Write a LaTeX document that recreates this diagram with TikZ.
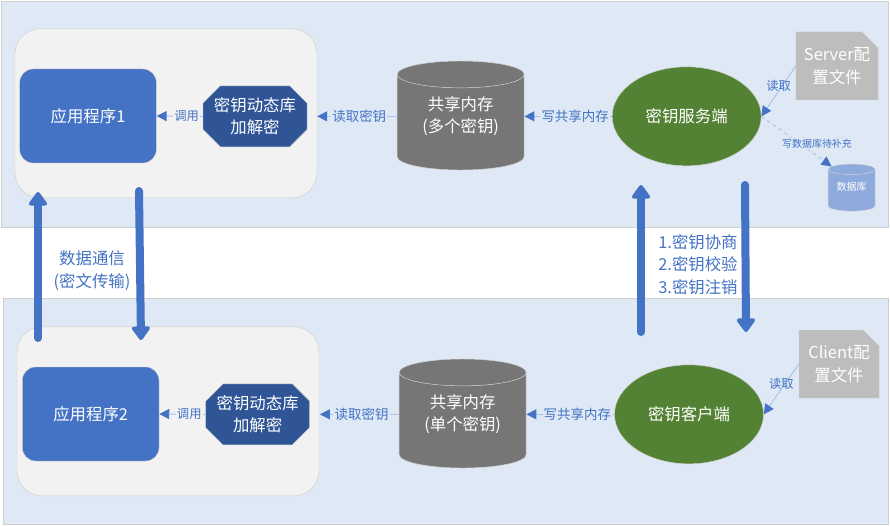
\documentclass[tikz,border=0pt]{standalone}
\usepackage{fontspec}
\usepackage{xcolor}
\setmainfont{Noto Sans CJK SC}
\usetikzlibrary{shapes.geometric, shapes.misc, arrows.meta, positioning}
\definecolor{panelblue}{HTML}{DEE9F5}
\definecolor{hostgray}{HTML}{F2F2F2}
\definecolor{edgegray}{HTML}{CFCFCF}
\definecolor{appblue}{HTML}{4472C4}
\definecolor{libblue}{HTML}{2F5597}
\definecolor{shmgray}{HTML}{767676}
\definecolor{keygreen}{HTML}{548235}
\definecolor{filegray}{HTML}{BDBDBD}
\definecolor{dbblue}{HTML}{8FAADC}
\definecolor{linkblue}{HTML}{A9C4EA}
\begin{document}
\begin{tikzpicture}[
  font=\fontsize{14pt}{19pt}\selectfont,
  panel/.style={
    draw=edgegray, fill=panelblue,
    minimum height=6.78cm, inner sep=0pt
  },
  host/.style={
    draw=edgegray, rounded corners=0.75cm, fill=hostgray,
    minimum width=9.06cm, minimum height=5.07cm
  },
  app/.style={
    draw=edgegray, rounded corners=0.4cm, fill=appblue, text=white,
    minimum width=4.1cm, minimum height=2.82cm
  },
  lib/.style={
    draw=edgegray, fill=libblue, text=white, align=center,
    chamfered rectangle, chamfered rectangle xsep=0.26cm, chamfered rectangle ysep=0.26cm,
    minimum width=3.12cm, minimum height=1.83cm, inner sep=0pt
  },
  shm/.style={
    draw=edgegray, cylinder, shape border rotate=90, shape aspect=0.35,
    cylinder uses custom fill, cylinder body fill=shmgray, cylinder end fill=shmgray,
    text=white, align=center, minimum width=3.81cm, minimum height=3.27cm, inner sep=0pt,
    text depth=0.45cm
  },
  keysvc/.style={
    draw=edgegray, ellipse, fill=keygreen, text=white,
    minimum width=4.47cm, minimum height=2.97cm, inner sep=0pt
  },
  conf/.style={
    draw=edgegray, fill=filegray, text=white, align=center,
    chamfered rectangle, chamfered rectangle corners=north east,
    chamfered rectangle xsep=0.24cm, chamfered rectangle ysep=0.24cm,
    minimum width=2.4cm, minimum height=2.04cm, inner sep=0pt
  },
  arr/.style={-{Triangle[color=appblue, length=0.3cm, width=0.3cm]}, draw=linkblue, thick},
  bigarr/.style={-{Triangle[round, length=0.45cm, width=0.62cm]}, draw=appblue,
    line width=0.24cm, line cap=round},
  lbl/.style={font=\fontsize{11.5pt}{13pt}\selectfont, text=appblue, inner sep=1pt},
  lblsm/.style={lbl, font=\fontsize{10.5pt}{13pt}\selectfont},
  note/.style={text=appblue, align=center},
]
\useasboundingbox (0,0) rectangle (26.7,15.75);

%% Panels
\node[panel, minimum width=26.61cm] (top) at (13.34, 12.33) {};
\node[panel, minimum width=26.55cm] (bottom) at (13.37, 3.42) {};

%% Hosts
\node[host] (host1) at (4.98, 12.35) {};
\node[host] (host2) at (5.04, 3.41) {};

%% Top row
\node[app] (app1)   at (2.64, 12.27) {应用程序1};
\node[lib] (lib1)   at (7.65, 12.26) {密钥动态库\\加解密};
\node[shm] (shm1)   at (13.82, 12.08) {共享内存\\(多个密钥)};
\node[keysvc] (server) at (20.6, 12.26) {密钥服务端};
\node[conf] (conf1) at (25.11, 13.77) {Server配\\置文件};
\node[shm, minimum width=1.41cm, minimum height=1.41cm, text depth=0.25cm,
  cylinder body fill=dbblue, cylinder end fill=dbblue,
  font=\fontsize{8.5pt}{10pt}\selectfont] (db) at (25.55, 10.04) {数据库};

%% Bottom row
\node[app] (app2)   at (2.72, 3.33) {应用程序2};
\node[lib] (lib2)   at (7.73, 3.32) {密钥动态库\\加解密};
\node[shm] (shm2)   at (13.88, 3.14) {共享内存\\(单个密钥)};
\node[keysvc] (client) at (20.67, 3.32) {密钥客户端};
\node[conf] (conf2) at (25.17, 4.83) {Client配\\置文件};

%% Arrows: top row
\draw[arr] (lib1.west) -- node[lblsm, fill=hostgray, pos=0.35] {调用} (app1.east);
\draw[arr, shorten >=0.3cm] (shm1.west |- lib1.west) -- node[lbl, fill=panelblue, pos=0.42] {读取密钥} (lib1.east);
\draw[arr] (server.west) -- node[lbl, fill=panelblue, pos=0.42] {写共享内存} (shm1.east |- server.west);
\draw[arr] (conf1.west) -- node[lblsm, above left=-0.05cm and -0.42cm] {读取} (server.east);
\draw[arr, dashed] (server.east) -- node[lbl, fill=panelblue, font=\fontsize{8.5pt}{10pt}\selectfont, pos=0.65, xshift=0.3cm, yshift=0.15cm] {写数据库待补充} (db.130);

%% Arrows: bottom row
\draw[arr] (lib2.west) -- node[lblsm, fill=hostgray, pos=0.35] {调用} (app2.east);
\draw[arr, shorten >=0.3cm] (shm2.west |- lib2.west) -- node[lbl, fill=panelblue, pos=0.42] {读取密钥} (lib2.east);
\draw[arr] (client.west) -- node[lbl, fill=panelblue, pos=0.42] {写共享内存} (shm2.east |- client.west);
\draw[arr] (conf2.west) -- node[lblsm, above left=-0.05cm and -0.42cm] {读取} (client.east);

%% Arrows: between panels
\coordinate (app2up)   at (1.14, 5.61);
\coordinate (app1up)   at (1.14, 9.99);
\coordinate (app1down) at (4.17, 10.02);
\coordinate (app2down) at (4.23, 5.55);
\coordinate (keyup1)   at (19.23, 5.79);
\coordinate (keyup2)   at (19.23, 10.2);
\coordinate (keydown1) at (22.35, 10.2);
\coordinate (keydown2) at (22.38, 5.79);
\draw[bigarr] (app2up) -- (app1up);
\draw[bigarr] (app1down) -- (app2down);
\draw[bigarr] (keyup1) -- (keyup2);
\draw[bigarr] (keydown1) -- (keydown2);

%% Notes
\node[note] (datanote) at (2.76, 7.63) {数据通信\\(密文传输)};
\node[note, align=left] (keynote) at (20.94, 7.81) {1.密钥协商\\2.密钥校验\\3.密钥注销};
\end{tikzpicture}
\end{document}
